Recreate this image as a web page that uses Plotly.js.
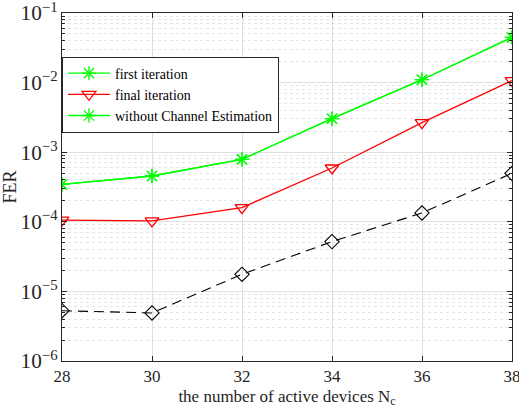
<!DOCTYPE html>
<html>
<head>
<meta charset="utf-8">
<script src="https://cdn.plot.ly/plotly-3.0.1.min.js"></script>
<style>html,body{margin:0;padding:0;background:#fff;}#chart{width:519px;height:415px;}</style>
</head>
<body>
<div id="chart"></div>
<script>
const devices = [28, 30, 32, 34, 36, 38];
const firstIteration = [3.45e-4, 4.55e-4, 7.9e-4, 3.03e-3, 1.10e-2, 4.47e-2];
const finalIteration = [1.06e-4, 1.03e-4, 1.6e-4, 5.93e-4, 2.66e-3, 1.07e-2];
const withoutCE = [5.28e-6, 4.9e-6, 1.76e-5, 5.19e-5, 1.34e-4, 4.97e-4];
const legendNames = ['first iteration', 'final iteration', 'without Channel Estimation'];
const xTicks = [28, 30, 32, 34, 36, 38];

const green = '#00ff00', red = '#ff0000';
const FONT = 'Times New Roman, Liberation Serif, serif';
const traces = [
  {x: devices, y: firstIteration, name: legendNames[0], mode: 'lines+markers',
   line: {color: green, width: 1.3},
   marker: {symbol: 'asterisk-open', size: 12, color: green, line: {color: green, width: 1.3}}},
  {x: devices, y: finalIteration, name: legendNames[1], mode: 'lines+markers',
   line: {color: red, width: 1.3},
   marker: {symbol: 'triangle-down-open', size: 12, color: red, line: {color: red, width: 1.3}}},
  {x: devices, y: firstIteration, name: legendNames[2], mode: 'lines+markers',
   line: {color: green, width: 1.3},
   marker: {symbol: 'asterisk-open', size: 12, color: green, line: {color: green, width: 1.3}}},
  {x: devices, y: withoutCE, name: 'no legend', showlegend: false, mode: 'lines+markers',
   line: {color: '#000', width: 1.1, dash: '10px,6px'},
   marker: {symbol: 'diamond-open', size: 11, color: '#000', line: {color: '#000', width: 1.1}}}
];

const layout = {
  width: 519, height: 415,
  margin: {l: 62, r: 7, t: 13, b: 54},
  paper_bgcolor: '#fff', plot_bgcolor: '#fff',
  font: {family: FONT, color: '#262626', size: 16},
  showlegend: true,
  legend: {x: 0, y: 0.875, xanchor: 'left', yanchor: 'top', bgcolor: '#fff',
           bordercolor: '#262626', borderwidth: 1, font: {family: FONT, size: 14, color: '#000'},
           tracegroupgap: 0, itemwidth: 42},
  xaxis: {
    range: [28, 38], tickvals: xTicks, ticktext: xTicks.map(String),
    ticks: 'inside', ticklen: 5, tickcolor: '#262626', mirror: 'ticks',
    showline: true, linecolor: '#262626', linewidth: 1,
    showgrid: true, gridcolor: '#e0e0e0', gridwidth: 1, zeroline: false,
    ticklabeloverflow: 'allow',
    tickfont: {family: FONT, size: 17},
    title: {text: 'the number of active devices N<sub>c</sub>', font: {family: FONT, size: 17}, standoff: 4}
  },
  yaxis: {
    type: 'log', range: [-6, -1], dtick: 1, exponentformat: 'power',
    ticks: 'inside', ticklen: 5, tickcolor: '#262626', mirror: 'ticks',
    showline: true, linecolor: '#262626', linewidth: 1,
    showgrid: true, gridcolor: '#e0e0e0', gridwidth: 1, zeroline: false,
    ticklabeloverflow: 'allow',
    tickfont: {family: FONT, size: 17},
    minor: {dtick: 'D1', showgrid: true, gridcolor: '#e4e4e4', griddash: 'dot', gridwidth: 1,
            ticks: 'inside', ticklen: 3, tickcolor: '#262626'},
    title: {text: 'FER', font: {family: FONT, size: 18}, standoff: 3}
  }
};
Plotly.newPlot('chart', traces, layout, {displayModeBar: false, staticPlot: true});
</script>
</body>
</html>
